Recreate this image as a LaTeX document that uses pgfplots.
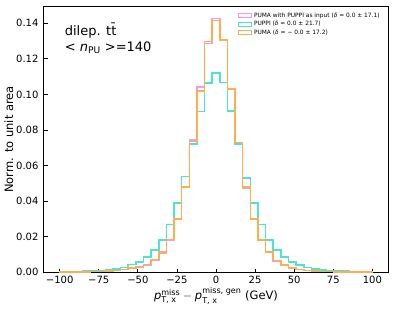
\documentclass[border=0pt]{standalone}
\usepackage{fontspec}
\setmainfont{DejaVu Sans}
\usepackage{amsmath}
\usepackage{pgfplots}
\usepackage{pgfplotstable}
\pgfplotsset{compat=1.18}
\definecolor{cpink}{HTML}{F29AF2}
\definecolor{ccyan}{HTML}{4EE2D3}
\definecolor{corange}{HTML}{FFAE4E}

% left bin edges (41 bins from -100 to 100), first/last rows close the outline at 0
\pgfplotstableread{
x        pink     cyan     orange
-100     0        0        0
-100     0.00003  0.0001   0.00003
-95.122  0.00005  0.0002   0.00005
-90.244  0.0001   0.0003   0.0001
-85.366  0.0001   0.0004   0.0001
-80.488  0.0002   0.0006   0.0002
-75.610  0.0003   0.0009   0.0003
-70.732  0.0005   0.0012   0.0005
-65.854  0.0008   0.0017   0.0008
-60.976  0.0013   0.0026   0.0013
-56.098  0.0020   0.0042   0.0021
-51.220  0.0029   0.0057   0.0030
-46.341  0.0040   0.0083   0.0043
-41.463  0.0068   0.0124   0.0071
-36.585  0.0108   0.0180   0.0111
-31.707  0.0178   0.0267   0.0184
-26.829  0.0296   0.0388   0.0298
-21.951  0.0478   0.0538   0.0480
-17.073  0.0742   0.0719   0.0734
-12.195  0.1043   0.0904   0.1019
-7.317   0.1287   0.1064   0.1297
-2.439   0.1428   0.1122   0.1415
2.439    0.1306   0.1068   0.1306
7.317    0.1032   0.0908   0.1030
12.195   0.0726   0.0721   0.0730
17.073   0.0472   0.0528   0.0477
21.951   0.0295   0.0387   0.0298
26.829   0.0178   0.0267   0.0180
31.707   0.0110   0.0180   0.0111
36.585   0.0063   0.0124   0.0064
41.463   0.0038   0.0083   0.0039
46.341   0.0022   0.0055   0.0022
51.220   0.0013   0.0039   0.0013
56.098   0.0008   0.0026   0.0008
60.976   0.0005   0.0017   0.0005
65.854   0.0003   0.0012   0.0003
70.732   0.0002   0.0009   0.0002
75.610   0.0001   0.0006   0.0001
80.488   0.0001   0.0004   0.0001
85.366   0.00005  0.0003   0.00005
90.244   0.00003  0.0002   0.00003
95.122   0.00002  0.0001   0.00002
100      0        0        0
}\histdata

\begin{document}
\begin{tikzpicture}
\begin{axis}[
  at={(0,0)}, anchor=south west,
  scale only axis,
  width=344pt, height=265pt,
  xmin=-110, xmax=110,
  ymin=0, ymax=0.1492,
  axis line style={line width=1pt},
  tick style={black, line width=0.8pt},
  tick align=inside,
  major tick length=3.5pt,
  xtick pos=bottom, ytick pos=left,
  xtick={-100,-75,-50,-25,0,25,50,75,100},
  xticklabels={−100,−75,−50,−25,0,25,50,75,100},
  ytick={0,0.02,0.04,0.06,0.08,0.10,0.12,0.14},
  yticklabels={0.00,0.02,0.04,0.06,0.08,0.10,0.12,0.14},
  tick label style={font=\fontsize{10}{11}\selectfont},
  yticklabel style={xshift=-2pt},
  xticklabel style={yshift=-0.5pt},
  xlabel={$\textit{p}^{\text{miss}}_{\text{T, x}} - \textit{p}^{\text{miss, gen}}_{\text{T, x}}$ (GeV)},
  ylabel={Norm. to unit area},
  label style={font=\fontsize{11.5}{13}\selectfont},
  xlabel style={yshift=3pt},
  ylabel style={yshift=-4pt},
  legend cell align=left,
  legend style={at={(rel axis cs:0.985,0.99)}, anchor=north east, draw=none, fill=none,
    font=\fontsize{5.9}{6.5}\selectfont, row sep=-1.5pt, inner sep=1pt},
  legend image code/.code={\draw[#1, line width=1.1pt] (0pt,-2pt) rectangle (13pt,2pt);},
]
\addplot[const plot, cpink, line width=1.6pt] table[x=x, y=pink] {\histdata};
\addlegendentry{PUMA with PUPPI as input (\textit{δ} = 0.0 ± 17.1)}
\addplot[const plot, ccyan, line width=1.6pt] table[x=x, y=cyan] {\histdata};
\addlegendentry{PUPPI (\textit{δ} = 0.0 ± 21.7)}
\addplot[const plot, corange, line width=1.6pt] table[x=x, y=orange] {\histdata};
\addlegendentry{PUMA (\textit{δ} = − 0.0 ± 17.2)}
\node[anchor=north west, align=left, font=\fontsize{13}{15}\selectfont, inner sep=0pt]
  at (rel axis cs:0.06,0.94) {dilep. t\={t}\\[1pt] < \textit{n}$_{\text{PU}}$ >=140};
\end{axis}
\path[use as bounding box] (-44pt,-38pt) rectangle (351pt,272pt);
\end{tikzpicture}
\end{document}
